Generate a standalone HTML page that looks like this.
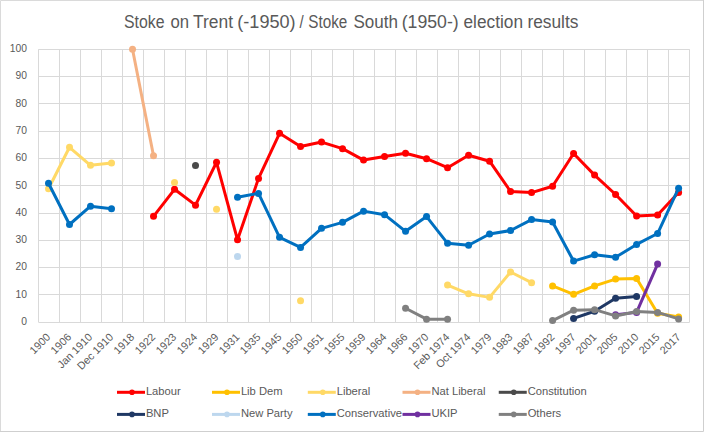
<!DOCTYPE html>
<html><head><meta charset="utf-8"><style>
html,body{margin:0;padding:0;background:#fff;}
body{width:704px;height:432px;overflow:hidden;}
svg text{font-family:"Liberation Sans", sans-serif;}
</style></head><body>
<svg width="704" height="432" viewBox="0 0 704 432" style="display:block">
<rect x="0" y="0" width="704" height="432" fill="#FFFFFF"/>
<path d="M0.5,432V0.5H704" stroke="#DADADA" stroke-width="1" fill="none"/>
<path d="M703.5,0V431.5H0" stroke="#CFCFCF" stroke-width="1" fill="none"/>
<text x="124.0" y="27.7" font-size="17.5" fill="#595959" textLength="40.53" lengthAdjust="spacingAndGlyphs">Stoke</text>
<text x="170.5" y="27.7" font-size="17.5" fill="#595959" textLength="18.59" lengthAdjust="spacingAndGlyphs">on</text>
<text x="193.0" y="27.7" font-size="17.5" fill="#595959" textLength="40.01" lengthAdjust="spacingAndGlyphs">Trent</text>
<text x="237.3" y="27.7" font-size="17.5" fill="#595959" textLength="58.3" lengthAdjust="spacingAndGlyphs">(-1950)</text>
<text x="299.6" y="27.7" font-size="17.5" fill="#595959" textLength="4.2" lengthAdjust="spacingAndGlyphs">/</text>
<text x="308.3" y="27.7" font-size="17.5" fill="#595959" textLength="39.0" lengthAdjust="spacingAndGlyphs">Stoke</text>
<text x="353.5" y="27.7" font-size="17.5" fill="#595959" textLength="44.5" lengthAdjust="spacingAndGlyphs">South</text>
<text x="401.7" y="27.7" font-size="17.5" fill="#595959" textLength="57.0" lengthAdjust="spacingAndGlyphs">(1950-)</text>
<text x="463.5" y="27.7" font-size="17.5" fill="#595959" textLength="59.52" lengthAdjust="spacingAndGlyphs">election</text>
<text x="527.4" y="27.7" font-size="17.5" fill="#595959" textLength="51.03" lengthAdjust="spacingAndGlyphs">results</text>
<path d="M38.50,322.50H689.60M38.50,294.50H689.60M38.50,267.50H689.60M38.50,240.50H689.60M38.50,213.50H689.60M38.50,185.50H689.60M38.50,158.50H689.60M38.50,131.50H689.60M38.50,103.50H689.60M38.50,76.50H689.60M38.50,49.50H689.60M38.50,49.30V322.20M59.50,49.30V322.20M80.50,49.30V322.20M101.50,49.30V322.20M122.50,49.30V322.20M143.50,49.30V322.20M164.50,49.30V322.20M185.50,49.30V322.20M206.50,49.30V322.20M227.50,49.30V322.20M248.50,49.30V322.20M269.50,49.30V322.20M290.50,49.30V322.20M311.50,49.30V322.20M332.50,49.30V322.20M353.50,49.30V322.20M374.50,49.30V322.20M395.50,49.30V322.20M416.50,49.30V322.20M437.50,49.30V322.20M458.50,49.30V322.20M479.50,49.30V322.20M500.50,49.30V322.20M521.50,49.30V322.20M542.50,49.30V322.20M563.50,49.30V322.20M584.50,49.30V322.20M605.50,49.30V322.20M626.50,49.30V322.20M647.50,49.30V322.20M668.50,49.30V322.20M689.50,49.30V322.20" stroke="#D9D9D9" stroke-width="1" fill="none"/>
<text x="27" y="325.00" text-anchor="end" font-size="10.3" fill="#595959">0</text>
<text x="27" y="297.71" text-anchor="end" font-size="10.3" fill="#595959">10</text>
<text x="27" y="270.42" text-anchor="end" font-size="10.3" fill="#595959">20</text>
<text x="27" y="243.13" text-anchor="end" font-size="10.3" fill="#595959">30</text>
<text x="27" y="215.84" text-anchor="end" font-size="10.3" fill="#595959">40</text>
<text x="27" y="188.55" text-anchor="end" font-size="10.3" fill="#595959">50</text>
<text x="27" y="161.26" text-anchor="end" font-size="10.3" fill="#595959">60</text>
<text x="27" y="133.97" text-anchor="end" font-size="10.3" fill="#595959">70</text>
<text x="27" y="106.68" text-anchor="end" font-size="10.3" fill="#595959">80</text>
<text x="27" y="79.39" text-anchor="end" font-size="10.3" fill="#595959">90</text>
<text x="27" y="52.10" text-anchor="end" font-size="10.3" fill="#595959">100</text>
<text transform="translate(51.10,337.70) rotate(-45)" text-anchor="end" font-size="10.8" fill="#595959">1900</text>
<text transform="translate(72.10,337.70) rotate(-45)" text-anchor="end" font-size="10.8" fill="#595959">1906</text>
<text transform="translate(93.11,337.70) rotate(-45)" text-anchor="end" font-size="10.8" fill="#595959">Jan 1910</text>
<text transform="translate(114.11,337.70) rotate(-45)" text-anchor="end" font-size="10.8" fill="#595959">Dec 1910</text>
<text transform="translate(135.11,337.70) rotate(-45)" text-anchor="end" font-size="10.8" fill="#595959">1918</text>
<text transform="translate(156.12,337.70) rotate(-45)" text-anchor="end" font-size="10.8" fill="#595959">1922</text>
<text transform="translate(177.12,337.70) rotate(-45)" text-anchor="end" font-size="10.8" fill="#595959">1923</text>
<text transform="translate(198.12,337.70) rotate(-45)" text-anchor="end" font-size="10.8" fill="#595959">1924</text>
<text transform="translate(219.13,337.70) rotate(-45)" text-anchor="end" font-size="10.8" fill="#595959">1929</text>
<text transform="translate(240.13,337.70) rotate(-45)" text-anchor="end" font-size="10.8" fill="#595959">1931</text>
<text transform="translate(261.13,337.70) rotate(-45)" text-anchor="end" font-size="10.8" fill="#595959">1935</text>
<text transform="translate(282.14,337.70) rotate(-45)" text-anchor="end" font-size="10.8" fill="#595959">1945</text>
<text transform="translate(303.14,337.70) rotate(-45)" text-anchor="end" font-size="10.8" fill="#595959">1950</text>
<text transform="translate(324.14,337.70) rotate(-45)" text-anchor="end" font-size="10.8" fill="#595959">1951</text>
<text transform="translate(345.15,337.70) rotate(-45)" text-anchor="end" font-size="10.8" fill="#595959">1955</text>
<text transform="translate(366.15,337.70) rotate(-45)" text-anchor="end" font-size="10.8" fill="#595959">1959</text>
<text transform="translate(387.15,337.70) rotate(-45)" text-anchor="end" font-size="10.8" fill="#595959">1964</text>
<text transform="translate(408.16,337.70) rotate(-45)" text-anchor="end" font-size="10.8" fill="#595959">1966</text>
<text transform="translate(429.16,337.70) rotate(-45)" text-anchor="end" font-size="10.8" fill="#595959">1970</text>
<text transform="translate(450.16,337.70) rotate(-45)" text-anchor="end" font-size="10.8" fill="#595959">Feb 1974</text>
<text transform="translate(471.17,337.70) rotate(-45)" text-anchor="end" font-size="10.8" fill="#595959">Oct 1974</text>
<text transform="translate(492.17,337.70) rotate(-45)" text-anchor="end" font-size="10.8" fill="#595959">1979</text>
<text transform="translate(513.17,337.70) rotate(-45)" text-anchor="end" font-size="10.8" fill="#595959">1983</text>
<text transform="translate(534.18,337.70) rotate(-45)" text-anchor="end" font-size="10.8" fill="#595959">1987</text>
<text transform="translate(555.18,337.70) rotate(-45)" text-anchor="end" font-size="10.8" fill="#595959">1992</text>
<text transform="translate(576.18,337.70) rotate(-45)" text-anchor="end" font-size="10.8" fill="#595959">1997</text>
<text transform="translate(597.19,337.70) rotate(-45)" text-anchor="end" font-size="10.8" fill="#595959">2001</text>
<text transform="translate(618.19,337.70) rotate(-45)" text-anchor="end" font-size="10.8" fill="#595959">2005</text>
<text transform="translate(639.19,337.70) rotate(-45)" text-anchor="end" font-size="10.8" fill="#595959">2010</text>
<text transform="translate(660.20,337.70) rotate(-45)" text-anchor="end" font-size="10.8" fill="#595959">2015</text>
<text transform="translate(681.20,337.70) rotate(-45)" text-anchor="end" font-size="10.8" fill="#595959">2017</text>
<path d="M153.52,216.31 L174.52,189.30 L195.52,205.13 L216.53,162.28 L237.53,239.78 L258.53,178.38 L279.54,133.35 L300.54,146.45 L321.54,142.09 L342.55,148.64 L363.55,160.10 L384.55,156.55 L405.56,153.27 L426.56,158.73 L447.56,167.74 L468.57,155.19 L489.57,161.19 L510.57,191.48 L531.58,192.57 L552.58,186.30 L573.58,153.55 L594.59,175.11 L615.59,194.48 L636.59,216.04 L657.60,214.95 L678.60,192.57" stroke="#FF0000" stroke-width="3" fill="none" stroke-linejoin="round" stroke-linecap="round"/>
<circle cx="153.52" cy="216.31" r="3.5" fill="#FF0000"/>
<circle cx="174.52" cy="189.30" r="3.5" fill="#FF0000"/>
<circle cx="195.52" cy="205.13" r="3.5" fill="#FF0000"/>
<circle cx="216.53" cy="162.28" r="3.5" fill="#FF0000"/>
<circle cx="237.53" cy="239.78" r="3.5" fill="#FF0000"/>
<circle cx="258.53" cy="178.38" r="3.5" fill="#FF0000"/>
<circle cx="279.54" cy="133.35" r="3.5" fill="#FF0000"/>
<circle cx="300.54" cy="146.45" r="3.5" fill="#FF0000"/>
<circle cx="321.54" cy="142.09" r="3.5" fill="#FF0000"/>
<circle cx="342.55" cy="148.64" r="3.5" fill="#FF0000"/>
<circle cx="363.55" cy="160.10" r="3.5" fill="#FF0000"/>
<circle cx="384.55" cy="156.55" r="3.5" fill="#FF0000"/>
<circle cx="405.56" cy="153.27" r="3.5" fill="#FF0000"/>
<circle cx="426.56" cy="158.73" r="3.5" fill="#FF0000"/>
<circle cx="447.56" cy="167.74" r="3.5" fill="#FF0000"/>
<circle cx="468.57" cy="155.19" r="3.5" fill="#FF0000"/>
<circle cx="489.57" cy="161.19" r="3.5" fill="#FF0000"/>
<circle cx="510.57" cy="191.48" r="3.5" fill="#FF0000"/>
<circle cx="531.58" cy="192.57" r="3.5" fill="#FF0000"/>
<circle cx="552.58" cy="186.30" r="3.5" fill="#FF0000"/>
<circle cx="573.58" cy="153.55" r="3.5" fill="#FF0000"/>
<circle cx="594.59" cy="175.11" r="3.5" fill="#FF0000"/>
<circle cx="615.59" cy="194.48" r="3.5" fill="#FF0000"/>
<circle cx="636.59" cy="216.04" r="3.5" fill="#FF0000"/>
<circle cx="657.60" cy="214.95" r="3.5" fill="#FF0000"/>
<circle cx="678.60" cy="192.57" r="3.5" fill="#FF0000"/>
<path d="M552.58,285.90 L573.58,294.36 L594.59,285.90 L615.59,279.08 L636.59,278.54 L657.60,313.19 L678.60,317.01" stroke="#FFC000" stroke-width="3" fill="none" stroke-linejoin="round" stroke-linecap="round"/>
<circle cx="552.58" cy="285.90" r="3.5" fill="#FFC000"/>
<circle cx="573.58" cy="294.36" r="3.5" fill="#FFC000"/>
<circle cx="594.59" cy="285.90" r="3.5" fill="#FFC000"/>
<circle cx="615.59" cy="279.08" r="3.5" fill="#FFC000"/>
<circle cx="636.59" cy="278.54" r="3.5" fill="#FFC000"/>
<circle cx="657.60" cy="313.19" r="3.5" fill="#FFC000"/>
<circle cx="678.60" cy="317.01" r="3.5" fill="#FFC000"/>
<path d="M48.50,188.75 L69.50,147.27 L90.51,165.28 L111.51,163.10" stroke="#FFD966" stroke-width="3" fill="none" stroke-linejoin="round" stroke-linecap="round"/>
<path d="M447.56,285.09 L468.57,293.82 L489.57,297.37 L510.57,271.99 L531.58,282.63" stroke="#FFD966" stroke-width="3" fill="none" stroke-linejoin="round" stroke-linecap="round"/>
<circle cx="48.50" cy="188.75" r="3.5" fill="#FFD966"/>
<circle cx="69.50" cy="147.27" r="3.5" fill="#FFD966"/>
<circle cx="90.51" cy="165.28" r="3.5" fill="#FFD966"/>
<circle cx="111.51" cy="163.10" r="3.5" fill="#FFD966"/>
<circle cx="174.52" cy="182.48" r="3.5" fill="#FFD966"/>
<circle cx="216.53" cy="209.22" r="3.5" fill="#FFD966"/>
<circle cx="300.54" cy="300.64" r="3.5" fill="#FFD966"/>
<circle cx="447.56" cy="285.09" r="3.5" fill="#FFD966"/>
<circle cx="468.57" cy="293.82" r="3.5" fill="#FFD966"/>
<circle cx="489.57" cy="297.37" r="3.5" fill="#FFD966"/>
<circle cx="510.57" cy="271.99" r="3.5" fill="#FFD966"/>
<circle cx="531.58" cy="282.63" r="3.5" fill="#FFD966"/>
<path d="M132.51,49.30 L153.52,155.73" stroke="#F4B183" stroke-width="3" fill="none" stroke-linejoin="round" stroke-linecap="round"/>
<circle cx="132.51" cy="49.30" r="3.5" fill="#F4B183"/>
<circle cx="153.52" cy="155.73" r="3.5" fill="#F4B183"/>
<circle cx="195.52" cy="165.56" r="3.5" fill="#4A4A4A"/>
<path d="M573.58,318.38 L594.59,311.28 L615.59,298.18 L636.59,296.55" stroke="#1F3864" stroke-width="3" fill="none" stroke-linejoin="round" stroke-linecap="round"/>
<circle cx="573.58" cy="318.38" r="3.5" fill="#1F3864"/>
<circle cx="594.59" cy="311.28" r="3.5" fill="#1F3864"/>
<circle cx="615.59" cy="298.18" r="3.5" fill="#1F3864"/>
<circle cx="636.59" cy="296.55" r="3.5" fill="#1F3864"/>
<circle cx="237.53" cy="256.43" r="3.5" fill="#BDD7EE"/>
<path d="M48.50,183.29 L69.50,224.50 L90.51,206.22 L111.51,208.67" stroke="#0070C0" stroke-width="3" fill="none" stroke-linejoin="round" stroke-linecap="round"/>
<path d="M237.53,197.21 L258.53,193.39 L279.54,237.33 L300.54,247.43 L321.54,228.32 L342.55,222.32 L363.55,211.13 L384.55,214.68 L405.56,231.32 L426.56,216.59 L447.56,243.33 L468.57,245.24 L489.57,234.05 L510.57,230.51 L531.58,219.59 L552.58,222.05 L573.58,261.07 L594.59,254.79 L615.59,257.25 L636.59,244.42 L657.60,233.51 L678.60,188.21" stroke="#0070C0" stroke-width="3" fill="none" stroke-linejoin="round" stroke-linecap="round"/>
<circle cx="48.50" cy="183.29" r="3.5" fill="#0070C0"/>
<circle cx="69.50" cy="224.50" r="3.5" fill="#0070C0"/>
<circle cx="90.51" cy="206.22" r="3.5" fill="#0070C0"/>
<circle cx="111.51" cy="208.67" r="3.5" fill="#0070C0"/>
<circle cx="237.53" cy="197.21" r="3.5" fill="#0070C0"/>
<circle cx="258.53" cy="193.39" r="3.5" fill="#0070C0"/>
<circle cx="279.54" cy="237.33" r="3.5" fill="#0070C0"/>
<circle cx="300.54" cy="247.43" r="3.5" fill="#0070C0"/>
<circle cx="321.54" cy="228.32" r="3.5" fill="#0070C0"/>
<circle cx="342.55" cy="222.32" r="3.5" fill="#0070C0"/>
<circle cx="363.55" cy="211.13" r="3.5" fill="#0070C0"/>
<circle cx="384.55" cy="214.68" r="3.5" fill="#0070C0"/>
<circle cx="405.56" cy="231.32" r="3.5" fill="#0070C0"/>
<circle cx="426.56" cy="216.59" r="3.5" fill="#0070C0"/>
<circle cx="447.56" cy="243.33" r="3.5" fill="#0070C0"/>
<circle cx="468.57" cy="245.24" r="3.5" fill="#0070C0"/>
<circle cx="489.57" cy="234.05" r="3.5" fill="#0070C0"/>
<circle cx="510.57" cy="230.51" r="3.5" fill="#0070C0"/>
<circle cx="531.58" cy="219.59" r="3.5" fill="#0070C0"/>
<circle cx="552.58" cy="222.05" r="3.5" fill="#0070C0"/>
<circle cx="573.58" cy="261.07" r="3.5" fill="#0070C0"/>
<circle cx="594.59" cy="254.79" r="3.5" fill="#0070C0"/>
<circle cx="615.59" cy="257.25" r="3.5" fill="#0070C0"/>
<circle cx="636.59" cy="244.42" r="3.5" fill="#0070C0"/>
<circle cx="657.60" cy="233.51" r="3.5" fill="#0070C0"/>
<circle cx="678.60" cy="188.21" r="3.5" fill="#0070C0"/>
<path d="M615.59,314.83 L636.59,312.38 L657.60,264.07" stroke="#7030A0" stroke-width="3" fill="none" stroke-linejoin="round" stroke-linecap="round"/>
<circle cx="615.59" cy="314.83" r="3.5" fill="#7030A0"/>
<circle cx="636.59" cy="312.38" r="3.5" fill="#7030A0"/>
<circle cx="657.60" cy="264.07" r="3.5" fill="#7030A0"/>
<path d="M405.56,308.28 L426.56,319.20 L447.56,319.20" stroke="#808080" stroke-width="3" fill="none" stroke-linejoin="round" stroke-linecap="round"/>
<path d="M552.58,320.56 L573.58,310.19 L594.59,309.65 L615.59,315.92 L636.59,311.56 L657.60,312.38 L678.60,318.93" stroke="#808080" stroke-width="3" fill="none" stroke-linejoin="round" stroke-linecap="round"/>
<circle cx="405.56" cy="308.28" r="3.5" fill="#808080"/>
<circle cx="426.56" cy="319.20" r="3.5" fill="#808080"/>
<circle cx="447.56" cy="319.20" r="3.5" fill="#808080"/>
<circle cx="552.58" cy="320.56" r="3.5" fill="#808080"/>
<circle cx="573.58" cy="310.19" r="3.5" fill="#808080"/>
<circle cx="594.59" cy="309.65" r="3.5" fill="#808080"/>
<circle cx="615.59" cy="315.92" r="3.5" fill="#808080"/>
<circle cx="636.59" cy="311.56" r="3.5" fill="#808080"/>
<circle cx="657.60" cy="312.38" r="3.5" fill="#808080"/>
<circle cx="678.60" cy="318.93" r="3.5" fill="#808080"/>
<line x1="117" y1="392.3" x2="145" y2="392.3" stroke="#FF0000" stroke-width="3"/>
<circle cx="132" cy="392.3" r="2.8" fill="#FF0000"/>
<text x="145.90" y="395.20" font-size="11.2" fill="#595959">Labour</text>
<line x1="212" y1="392.3" x2="240" y2="392.3" stroke="#FFC000" stroke-width="3"/>
<circle cx="227" cy="392.3" r="2.8" fill="#FFC000"/>
<text x="240.90" y="395.20" font-size="11.2" fill="#595959">Lib Dem</text>
<line x1="307.8" y1="392.3" x2="335.8" y2="392.3" stroke="#FFD966" stroke-width="3"/>
<circle cx="322.8" cy="392.3" r="2.8" fill="#FFD966"/>
<text x="336.70" y="395.20" font-size="11.2" fill="#595959">Liberal</text>
<line x1="402.5" y1="392.3" x2="430.5" y2="392.3" stroke="#F4B183" stroke-width="3"/>
<circle cx="417.5" cy="392.3" r="2.8" fill="#F4B183"/>
<text x="431.40" y="395.20" font-size="11.2" fill="#595959">Nat Liberal</text>
<line x1="498.75" y1="392.3" x2="526.75" y2="392.3" stroke="#4A4A4A" stroke-width="3"/>
<circle cx="513.75" cy="392.3" r="2.8" fill="#4A4A4A"/>
<text x="527.65" y="395.20" font-size="11.2" fill="#595959">Constitution</text>
<line x1="117" y1="414.4" x2="145" y2="414.4" stroke="#1F3864" stroke-width="3"/>
<circle cx="132" cy="414.4" r="2.8" fill="#1F3864"/>
<text x="145.90" y="417.30" font-size="11.2" fill="#595959">BNP</text>
<line x1="212" y1="414.4" x2="240" y2="414.4" stroke="#BDD7EE" stroke-width="3"/>
<circle cx="227" cy="414.4" r="2.8" fill="#BDD7EE"/>
<text x="240.90" y="417.30" font-size="11.2" fill="#595959">New Party</text>
<line x1="307.8" y1="414.4" x2="335.8" y2="414.4" stroke="#0070C0" stroke-width="3"/>
<circle cx="322.8" cy="414.4" r="2.8" fill="#0070C0"/>
<text x="336.70" y="417.30" font-size="11.2" fill="#595959">Conservative</text>
<line x1="402.5" y1="414.4" x2="430.5" y2="414.4" stroke="#7030A0" stroke-width="3"/>
<circle cx="417.5" cy="414.4" r="2.8" fill="#7030A0"/>
<text x="431.40" y="417.30" font-size="11.2" fill="#595959">UKIP</text>
<line x1="498.75" y1="414.4" x2="526.75" y2="414.4" stroke="#808080" stroke-width="3"/>
<circle cx="513.75" cy="414.4" r="2.8" fill="#808080"/>
<text x="527.65" y="417.30" font-size="11.2" fill="#595959">Others</text>
</svg>
</body></html>
